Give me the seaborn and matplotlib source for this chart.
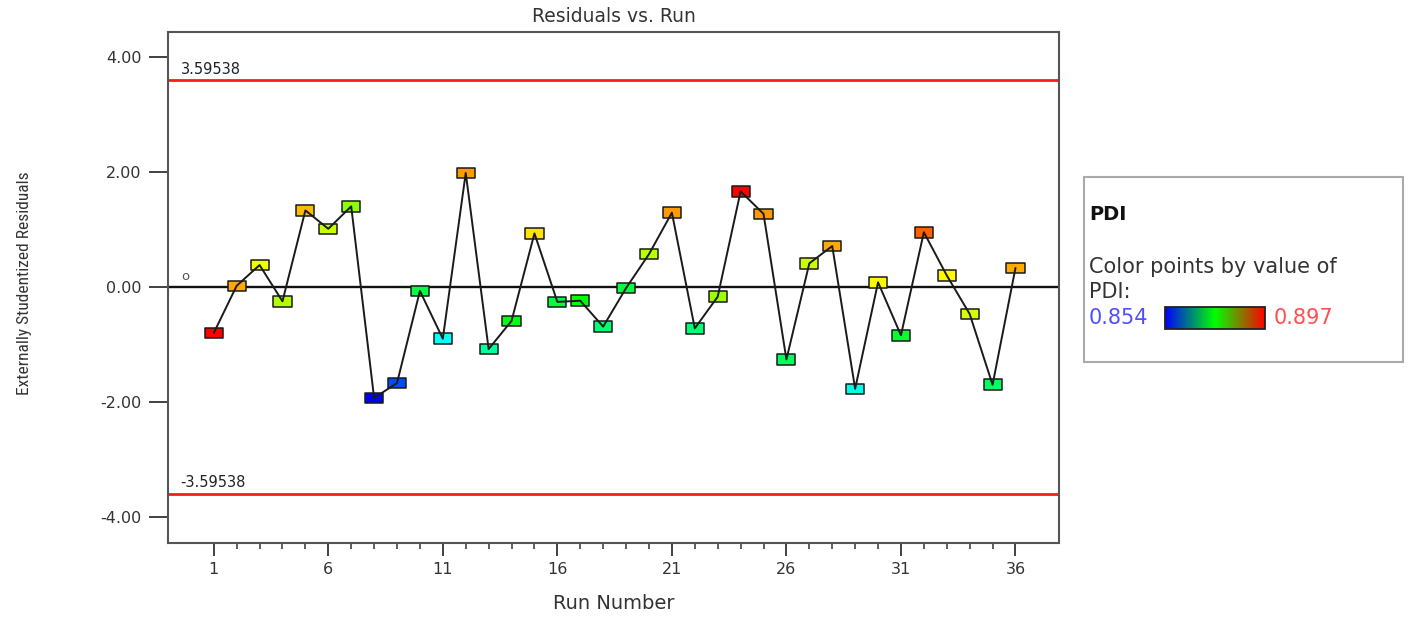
import numpy as np
import pandas as pd
import matplotlib
matplotlib.use("Agg")
import matplotlib.pyplot as plt
import matplotlib.transforms as mtransforms
import seaborn as sns
from matplotlib import cm
from matplotlib.colors import LinearSegmentedColormap, ListedColormap, Normalize
from matplotlib.path import Path
from matplotlib.patches import Rectangle

# ---- data -------------------------------------------------------------
runs = list(range(1, 37))
residuals = [-0.80, 0.02, 0.38, -0.25, 1.33, 1.01, 1.40, -1.93, -1.67, -0.07,
             -0.90, 1.98, -1.08, -0.59, 0.93, -0.26, -0.24, -0.69, -0.02, 0.57,
             1.29, -0.72, -0.17, 1.66, 1.27, -1.26, 0.41, 0.71, -1.77, 0.08,
             -0.84, 0.95, 0.20, -0.47, -1.70, 0.33]
pdi = [0.8970, 0.8884, 0.8858, 0.8844, 0.8878, 0.8850, 0.8831, 0.8540, 0.8590, 0.8708,
       0.8648, 0.8889, 0.8674, 0.8738, 0.8869, 0.8712, 0.8746, 0.8688, 0.8712, 0.8845,
       0.8889, 0.8688, 0.8837, 0.8970, 0.8889, 0.8699, 0.8850, 0.8884, 0.8654, 0.8863,
       0.8719, 0.8910, 0.8863, 0.8854, 0.8695, 0.8884]
limit = 3.59538
pdi_low, pdi_high = 0.854, 0.897
x_ticks = [1, 6, 11, 16, 21, 26, 31, 36]
y_ticks = [-4, -2, 0, 2, 4]
y_tick_labels = ["-4.00", "-2.00", "0.00", "2.00", "4.00"]

df = pd.DataFrame({"run": runs, "residual": residuals, "pdi": pdi})

# ---- colour scales ----------------------------------------------------
bar_cmap = LinearSegmentedColormap.from_list("pdi_bar", ["#0000ff", "#00ff00", "#ff0000"])
_rgb = bar_cmap(np.linspace(0, 1, 256))[:, :3]
_rgb = _rgb / _rgb.max(axis=1, keepdims=True)
point_cmap = ListedColormap(_rgb, name="pdi_points")

# ---- style ------------------------------------------------------------
sns.set_style("ticks")
plt.rcParams["font.family"] = ["DejaVu Sans"]
text_col = "#333333"

fig = plt.figure(figsize=(14.09, 6.19), dpi=100)
ax = fig.add_axes([0.1192, 0.1228, 0.6324, 0.8255])

# reference lines
ax.axhline(0, color="#111111", lw=1.7, zorder=2)
for lv in (limit, -limit):
    ax.axhline(lv, color="#ff1a1a", lw=2.0, zorder=2)
    ax.annotate(f"{lv:.5f}", xy=(0.0, lv),
                xycoords=mtransforms.blended_transform_factory(ax.transAxes, ax.transData),
                xytext=(9, 2.5), textcoords="offset points",
                ha="left", va="bottom", fontsize=10.5, color="#222222")
ax.annotate("o", xy=(0.0, 0.0),
            xycoords=mtransforms.blended_transform_factory(ax.transAxes, ax.transData),
            xytext=(12.5, 7.5), textcoords="offset points",
            ha="center", va="center", fontsize=9.5, color="#555555")

# residual trace and coloured run markers
sns.lineplot(data=df, x="run", y="residual", sort=False, estimator=None,
             color="#1a1a1a", lw=1.4, zorder=4, ax=ax)
box = Path([(-1, -0.58), (1, -0.58), (1, 0.58), (-1, 0.58), (-1, -0.58)],
           [Path.MOVETO, Path.LINETO, Path.LINETO, Path.LINETO, Path.CLOSEPOLY])
sns.scatterplot(data=df, x="run", y="residual", hue="pdi", palette=point_cmap,
                hue_norm=(pdi_low, pdi_high), marker=box, s=170,
                edgecolor="#1a1a1a", linewidth=1.1, legend=False, zorder=3, ax=ax)

# axes
ax.set_xlim(-1.0, 37.9)
ax.set_ylim(-4.45, 4.43)
ax.set_xticks(x_ticks)
ax.set_xticks(runs, minor=True)
ax.set_yticks(y_ticks, labels=y_tick_labels)
ax.tick_params(axis="x", which="major", direction="out", length=9.4, width=1.3,
               color="#333333", pad=4, labelsize=11.5, labelcolor=text_col)
ax.tick_params(axis="x", which="minor", direction="out", length=4.3, width=1.1,
               color="#333333")
ax.tick_params(axis="y", which="major", direction="out", length=13.5, width=1.3,
               color="#333333", pad=5.5, labelsize=11.5, labelcolor=text_col)
for sp in ax.spines.values():
    sp.set_visible(True)
    sp.set_color("#555555")
    sp.set_linewidth(1.5)

ax.set_title("Residuals vs. Run", fontsize=13.5, color=text_col, y=1.031, va="center", pad=0)
ax.set_xlabel("Run Number", fontsize=14, color=text_col)
ax.xaxis.set_label_coords(0.5, -0.119)
ax.xaxis.label.set_va("center")
ax.set_ylabel("Externally Studentized Residuals", fontsize=12.5, color=text_col,
              family=["Roboto Condensed", "Liberation Sans Narrow", "Open Sans Condensed",
                      "DejaVu Sans"], fontstretch="condensed")
ax.yaxis.set_label_coords(-0.161, 0.509)
ax.yaxis.label.set_va("center")

# ---- colour key panel -------------------------------------------------
fig.add_artist(Rectangle((0.7693, 0.4152), 0.2264, 0.2988, transform=fig.transFigure,
                         fill=False, edgecolor="#aaaaaa", lw=1.5, zorder=-1))
fig.text(0.7729, 0.6527, "PDI", fontsize=14, fontweight="bold", color="#111111",
         ha="left", va="center")
fig.text(0.7729, 0.5687, "Color points by value of", fontsize=15, color=text_col,
         ha="left", va="center")
fig.text(0.7729, 0.5283, "PDI:", fontsize=15, color=text_col, ha="left", va="center")
fig.text(0.7729, 0.4863, f"{pdi_low:.3f}", fontsize=15, color="#4f4fff",
         ha="left", va="center")
fig.text(0.9042, 0.4863, f"{pdi_high:.3f}", fontsize=15, color="#ff4f4f",
         ha="left", va="center")

cax = fig.add_axes([0.8268, 0.4685, 0.0710, 0.0355])
cb = fig.colorbar(cm.ScalarMappable(norm=Normalize(pdi_low, pdi_high), cmap=bar_cmap),
                  cax=cax, orientation="horizontal")
cb.set_ticks([])
cb.outline.set_edgecolor("#222222")
cb.outline.set_linewidth(1.3)

fig.savefig("out.png", dpi=100)
